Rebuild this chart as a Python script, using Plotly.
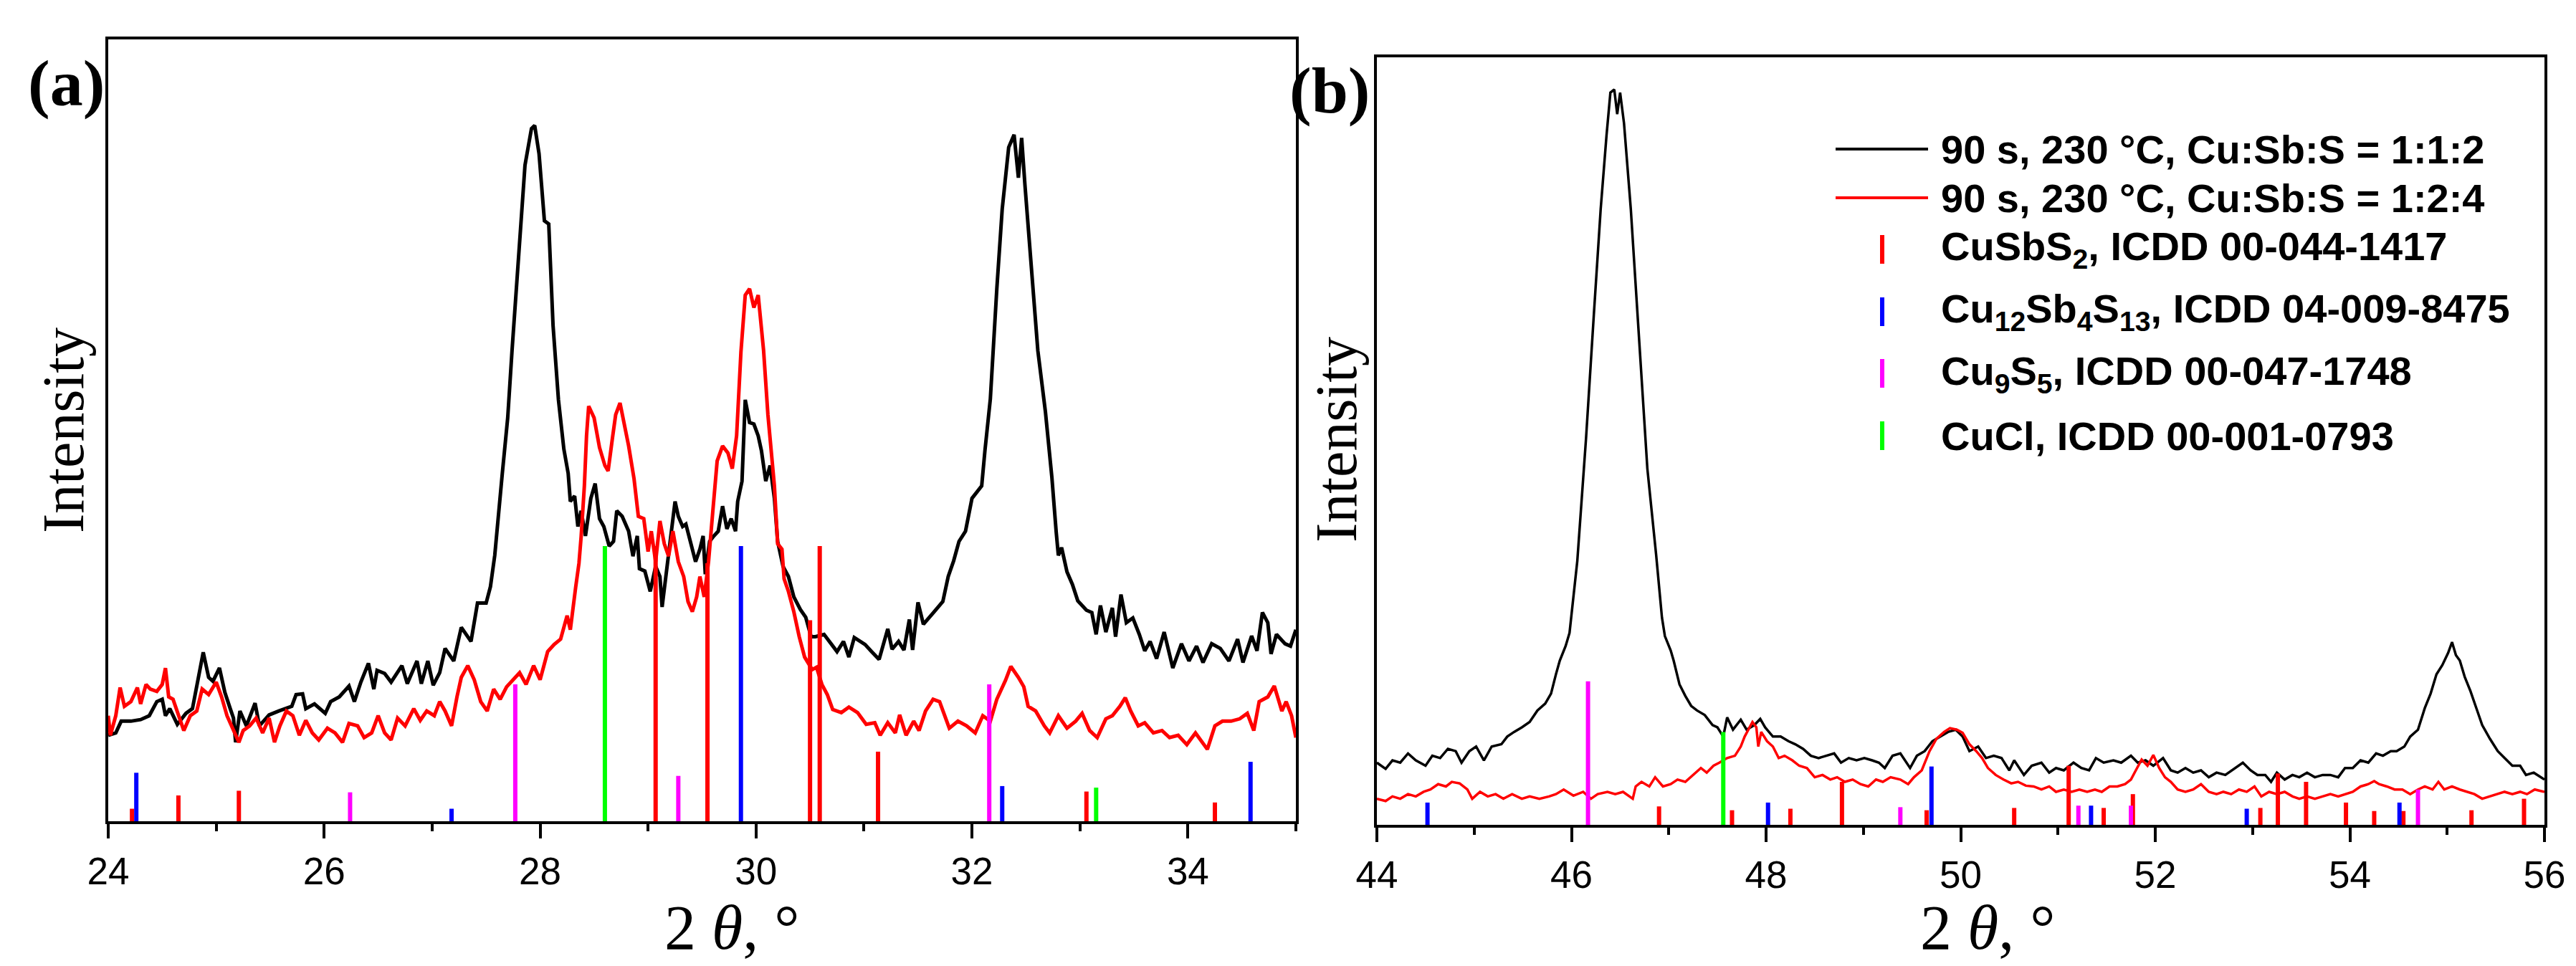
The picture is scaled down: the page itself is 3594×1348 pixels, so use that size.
import plotly.graph_objects as go

# ---------------- panel (a): 24-35 deg ----------------
a_x_black = [24.00, 24.07, 24.12, 24.21, 24.30, 24.38, 24.45, 24.50, 24.53, 24.57, 24.64, 24.72, 24.78,
             24.82, 24.88, 24.93, 24.97, 25.03, 25.08, 25.13, 25.16, 25.18, 25.22, 25.28, 25.36, 25.40,
             25.49, 25.58, 25.70, 25.74, 25.80, 25.83, 25.91, 26.01, 26.06, 26.14, 26.23, 26.28, 26.34,
             26.41, 26.46, 26.49, 26.56, 26.62, 26.66, 26.72, 26.77, 26.81, 26.86, 26.90, 26.96, 27.01,
             27.07, 27.12, 27.20, 27.27, 27.36, 27.42, 27.50, 27.54, 27.58, 27.65, 27.70, 27.74, 27.80,
             27.86, 27.92, 27.95, 27.99, 28.04, 28.08, 28.12, 28.17, 28.22, 28.26, 28.28, 28.32, 28.35,
             28.38, 28.42, 28.47, 28.51, 28.55, 28.59, 28.64, 28.68, 28.71, 28.76, 28.82, 28.86, 28.90,
             28.92, 28.97, 29.02, 29.07, 29.11, 29.13, 29.17, 29.21, 29.25, 29.28, 29.32, 29.35, 29.39,
             29.44, 29.48, 29.51, 29.53, 29.57, 29.61, 29.65, 29.69, 29.73, 29.77, 29.81, 29.83, 29.87,
             29.90, 29.94, 29.98, 30.02, 30.05, 30.09, 30.13, 30.17, 30.20, 30.25, 30.30, 30.35, 30.41,
             30.46, 30.51, 30.55, 30.63, 30.75, 30.81, 30.86, 30.91, 31.01, 31.07, 31.14, 31.22, 31.26,
             31.32, 31.37, 31.42, 31.45, 31.50, 31.55, 31.65, 31.73, 31.78, 31.83, 31.88, 31.94, 32.00,
             32.09, 32.12, 32.17, 32.23, 32.28, 32.34, 32.39, 32.43, 32.46, 32.49, 32.55, 32.61, 32.68,
             32.74, 32.78, 32.80, 32.83, 32.88, 32.93, 32.98, 33.06, 33.11, 33.15, 33.19, 33.24, 33.30,
             33.33, 33.38, 33.43, 33.49, 33.55, 33.60, 33.65, 33.71, 33.78, 33.86, 33.94, 34.01, 34.08,
             34.14, 34.22, 34.30, 34.38, 34.46, 34.51, 34.59, 34.64, 34.69, 34.74, 34.77, 34.82, 34.90,
             34.95, 35.00]
a_y_black = [110, 113, 128, 128, 130, 135, 153, 156, 135, 144, 124, 138, 144,
             171, 216, 184, 179, 196, 165, 144, 132, 101, 141, 122, 151, 122,
             136, 141, 147, 162, 163, 144, 150, 138, 153, 159, 173, 153, 178,
             202, 169, 193, 189, 178, 187, 199, 176, 188, 205, 176, 205, 174,
             190, 221, 205, 248, 230, 279, 279, 300, 340, 445, 516, 602, 728,
             839, 886, 890, 854, 768, 764, 634, 539, 476, 445, 409, 416, 377,
             397, 365, 413, 432, 387, 377, 352, 358, 397, 390, 371, 339, 365,
             323, 320, 294, 326, 313, 274, 320, 365, 409, 390, 377, 380, 358,
             332, 348, 365, 316, 358, 365, 371, 403, 374, 387, 371, 409, 435,
             539, 510, 508, 493, 474, 435, 455, 413, 358, 326, 313, 287, 271,
             261, 236, 236, 239, 217, 230, 210, 235, 226, 217, 207, 246, 220,
             230, 219, 258, 219, 280, 252, 268, 281, 313, 333, 358, 371, 413,
             429, 474, 540, 681, 783, 862, 878, 823, 874, 815, 713, 602, 524,
             440, 370, 340, 350, 319, 303, 282, 270, 267, 239, 276, 242, 273,
             236, 290, 254, 260, 239, 218, 230, 208, 242, 196, 227, 205, 224,
             203, 227, 221, 205, 233, 203, 237, 218, 267, 254, 214, 239, 227,
             224, 245]

a_x_red = [24.00, 24.02, 24.07, 24.11, 24.15, 24.21, 24.27, 24.30, 24.35, 24.39, 24.45, 24.50, 24.53,
           24.56, 24.60, 24.64, 24.70, 24.76, 24.82, 24.87, 24.93, 25.00, 25.05, 25.10, 25.16, 25.21,
           25.25, 25.31, 25.37, 25.43, 25.49, 25.54, 25.59, 25.65, 25.71, 25.77, 25.83, 25.89, 25.95,
           26.03, 26.10, 26.17, 26.23, 26.31, 26.37, 26.44, 26.50, 26.56, 26.62, 26.68, 26.75, 26.83,
           26.89, 26.95, 27.02, 27.07, 27.12, 27.18, 27.23, 27.27, 27.33, 27.39, 27.45, 27.51, 27.57,
           27.63, 27.69, 27.73, 27.81, 27.87, 27.94, 28.00, 28.07, 28.13, 28.19, 28.25, 28.28, 28.33,
           28.36, 28.38, 28.41, 28.43, 28.45, 28.50, 28.55, 28.60, 28.63, 28.67, 28.70, 28.74, 28.78,
           28.82, 28.87, 28.91, 28.96, 29.00, 29.03, 29.07, 29.11, 29.15, 29.19, 29.23, 29.28, 29.33,
           29.37, 29.41, 29.45, 29.48, 29.52, 29.56, 29.60, 29.64, 29.69, 29.74, 29.78, 29.82, 29.86,
           29.90, 29.94, 29.98, 30.02, 30.07, 30.11, 30.15, 30.17, 30.20, 30.24, 30.26, 30.30, 30.35,
           30.40, 30.45, 30.52, 30.56, 30.61, 30.66, 30.71, 30.79, 30.86, 30.94, 31.02, 31.10, 31.15,
           31.22, 31.29, 31.33, 31.39, 31.46, 31.51, 31.57, 31.64, 31.70, 31.75, 31.79, 31.87, 31.95,
           32.03, 32.10, 32.17, 32.23, 32.31, 32.36, 32.43, 32.48, 32.52, 32.59, 32.67, 32.72, 32.80,
           32.88, 32.96, 33.02, 33.09, 33.16, 33.24, 33.30, 33.37, 33.42, 33.47, 33.54, 33.60, 33.68,
           33.76, 33.83, 33.91, 33.99, 34.07, 34.12, 34.18, 34.25, 34.32, 34.40, 34.48, 34.55, 34.61,
           34.66, 34.74, 34.80, 34.87, 34.91, 34.96, 35.00]
a_y_red = [135, 110, 135, 171, 147, 153, 171, 150, 175, 169, 166, 175, 196,
           159, 156, 141, 116, 135, 141, 169, 162, 178, 159, 135, 116, 101,
           116, 122, 132, 113, 132, 101, 122, 141, 135, 110, 129, 113, 104,
           119, 113, 101, 125, 122, 107, 113, 135, 113, 104, 132, 122, 144,
           129, 141, 135, 153, 141, 122, 159, 184, 199, 181, 153, 141, 169,
           156, 172, 178, 190, 175, 199, 181, 217, 226, 233, 263, 245, 300,
           330, 364, 429, 493, 531, 516, 478, 455, 448, 490, 520, 535, 510,
           480, 438, 390, 387, 345, 371, 332, 384, 355, 339, 371, 332, 313,
           281, 268, 287, 313, 287, 332, 397, 461, 480, 471, 451, 493, 600,
           673, 681, 657, 673, 602, 520, 465, 429, 355, 348, 310, 294, 268,
           236, 210, 194, 197, 175, 162, 143, 139, 146, 139, 124, 126, 110,
           126, 113, 136, 110, 128, 116, 141, 156, 153, 135, 119, 128, 122,
           113, 135, 128, 156, 180, 198, 184, 172, 147, 141, 122, 113, 135,
           119, 128, 138, 116, 107, 131, 135, 147, 158, 141, 122, 126, 113,
           116, 107, 110, 98, 113, 104, 92, 122, 128, 128, 131, 138, 116,
           153, 159, 173, 141, 153, 135, 107]

# reference patterns (a)
a_cusbs2_pos = [24.22, 24.65, 25.21, 29.07, 29.55, 30.50, 30.59, 31.13, 33.06, 34.25]
a_cusbs2_int = [16, 33, 39, 352, 330, 257, 352, 89, 38, 24]
a_cu12_pos = [24.26, 27.18, 29.86, 32.28, 34.58]
a_cu12_int = [62, 16, 352, 45, 76]
a_cu9s5_pos = [26.24, 27.77, 29.28, 32.16]
a_cu9s5_int = [37, 175, 58, 175]
a_cucl_pos = [28.60, 33.15]
a_cucl_int = [352, 43]

# ---------------- panel (b): 44-56 deg ----------------
b_x_black = [44.00, 44.09, 44.16, 44.24, 44.32, 44.40, 44.50, 44.57, 44.65, 44.73, 44.81, 44.87, 44.95,
             45.02, 45.10, 45.18, 45.28, 45.34, 45.41, 45.49, 45.57, 45.65, 45.73, 45.79, 45.84, 45.88,
             45.94, 45.98, 46.06, 46.15, 46.23, 46.30, 46.36, 46.40, 46.44, 46.47, 46.50, 46.54, 46.61,
             46.70, 46.78, 46.87, 46.93, 46.96, 47.02, 47.05, 47.11, 47.17, 47.23, 47.29, 47.37, 47.45,
             47.50, 47.56, 47.60, 47.66, 47.74, 47.80, 47.88, 47.94, 47.99, 48.07, 48.15, 48.23, 48.30,
             48.38, 48.46, 48.54, 48.62, 48.70, 48.77, 48.85, 48.93, 49.01, 49.09, 49.16, 49.22, 49.30,
             49.38, 49.48, 49.55, 49.63, 49.71, 49.79, 49.87, 49.95, 50.02, 50.09, 50.18, 50.26, 50.34,
             50.42, 50.50, 50.55, 50.65, 50.73, 50.83, 50.91, 50.98, 51.06, 51.16, 51.24, 51.32, 51.39,
             51.47, 51.57, 51.65, 51.75, 51.82, 51.90, 51.98, 52.08, 52.16, 52.23, 52.31, 52.39, 52.47,
             52.55, 52.63, 52.72, 52.82, 52.90, 52.98, 53.05, 53.13, 53.19, 53.25, 53.33, 53.41, 53.48,
             53.56, 53.64, 53.72, 53.80, 53.88, 53.95, 54.03, 54.11, 54.19, 54.27, 54.34, 54.42, 54.48,
             54.56, 54.62, 54.70, 54.77, 54.83, 54.89, 54.95, 55.01, 55.05, 55.09, 55.13, 55.18, 55.24,
             55.30, 55.36, 55.44, 55.52, 55.59, 55.67, 55.75, 55.81, 55.89, 55.96, 56.00]
b_y_black = [81, 73, 84, 81, 93, 84, 77, 90, 87, 99, 96, 81, 96,
             102, 84, 102, 105, 115, 121, 127, 134, 149, 158, 171, 196, 214,
             233, 250, 344, 504, 665, 802, 898, 954, 958, 926, 954, 914, 802,
             625, 464, 352, 270, 246, 227, 214, 183, 168, 155, 149, 143, 130,
             127, 115, 140, 124, 137, 124, 130, 138, 127, 115, 115, 109, 105,
             99, 90, 87, 90, 93, 81, 87, 84, 87, 84, 81, 74, 90,
             93, 74, 90, 96, 109, 115, 121, 124, 115, 96, 102, 87, 90,
             87, 71, 84, 65, 77, 81, 68, 74, 71, 81, 74, 71, 87,
             81, 84, 81, 90, 81, 84, 77, 87, 71, 68, 74, 68, 71,
             62, 68, 65, 74, 81, 71, 65, 65, 56, 68, 59, 65, 62,
             68, 62, 65, 65, 62, 74, 74, 84, 81, 93, 90, 96, 96,
             102, 115, 124, 152, 171, 196, 208, 224, 238, 221, 214, 193, 174,
             152, 130, 112, 96, 87, 77, 77, 65, 68, 62, 59]

b_x_red = [44.00, 44.09, 44.16, 44.24, 44.32, 44.40, 44.48, 44.55, 44.63, 44.71, 44.77, 44.85, 44.93,
           44.98, 45.06, 45.14, 45.22, 45.30, 45.39, 45.49, 45.57, 45.67, 45.77, 45.84, 45.92, 46.02,
           46.12, 46.20, 46.27, 46.37, 46.45, 46.53, 46.63, 46.66, 46.72, 46.80, 46.86, 46.94, 47.02,
           47.09, 47.17, 47.25, 47.33, 47.39, 47.46, 47.52, 47.60, 47.68, 47.74, 47.78, 47.82, 47.86,
           47.90, 47.92, 47.95, 48.01, 48.07, 48.13, 48.19, 48.27, 48.34, 48.42, 48.50, 48.58, 48.66,
           48.73, 48.81, 48.89, 48.97, 49.05, 49.13, 49.20, 49.28, 49.38, 49.46, 49.52, 49.60, 49.68,
           49.75, 49.83, 49.89, 49.96, 50.02, 50.09, 50.16, 50.22, 50.28, 50.36, 50.44, 50.52, 50.59,
           50.67, 50.75, 50.83, 50.91, 50.98, 51.06, 51.14, 51.22, 51.30, 51.38, 51.45, 51.53, 51.61,
           51.69, 51.75, 51.80, 51.86, 51.92, 51.98, 52.04, 52.10, 52.16, 52.23, 52.31, 52.39, 52.47,
           52.55, 52.63, 52.70, 52.78, 52.86, 52.94, 53.02, 53.09, 53.17, 53.25, 53.33, 53.41, 53.48,
           53.56, 53.64, 53.72, 53.80, 53.88, 53.95, 54.03, 54.11, 54.19, 54.25, 54.30, 54.38, 54.46,
           54.54, 54.62, 54.70, 54.77, 54.85, 54.91, 54.97, 55.05, 55.13, 55.20, 55.28, 55.36, 55.44,
           55.52, 55.59, 55.67, 55.75, 55.82, 55.90, 56.00]
b_y_red = [34, 31, 37, 34, 40, 37, 43, 46, 53, 50, 56, 54, 46,
           34, 43, 37, 40, 34, 40, 34, 37, 34, 37, 40, 46, 38,
           43, 34, 40, 43, 40, 43, 34, 50, 56, 50, 62, 50, 53,
           59, 56, 65, 74, 68, 77, 81, 87, 90, 102, 115, 124, 134,
           127, 102, 121, 109, 102, 87, 90, 84, 77, 74, 62, 65, 59,
           62, 56, 59, 53, 50, 59, 56, 62, 59, 53, 62, 71, 96,
           112, 121, 126, 124, 120, 105, 96, 87, 74, 65, 59, 54, 56,
           51, 50, 46, 50, 43, 46, 43, 46, 43, 46, 43, 50, 50,
           53, 59, 71, 85, 77, 91, 74, 62, 56, 46, 43, 46, 53,
           43, 40, 43, 40, 46, 43, 50, 37, 43, 40, 43, 37, 34,
           37, 34, 37, 40, 37, 40, 43, 50, 53, 57, 53, 50, 46,
           46, 40, 46, 50, 46, 56, 46, 50, 46, 43, 40, 34, 37,
           40, 43, 40, 43, 40, 46, 43]

# reference patterns (b)
b_cusbs2_pos = [46.90, 47.65, 48.25, 48.78, 49.65, 50.55, 51.11, 51.47, 51.77, 53.08, 53.26, 53.55,
                53.96, 54.25, 54.55, 55.25, 55.79]
b_cusbs2_int = [24, 19, 21, 56, 19, 22, 77, 22, 40, 22, 67, 56, 29, 18, 18, 19, 34]
b_cu12_pos = [44.52, 48.02, 49.70, 51.34, 52.94, 54.51]
b_cu12_int = [29, 29, 76, 25, 21, 29]
b_cu9s5_pos = [46.17, 49.38, 51.21, 51.75, 54.70]
b_cu9s5_int = [187, 23, 25, 25, 46]
b_cucl_pos = [47.56]
b_cucl_int = [121]

legend_labels = ['90 s, 230 °C, Cu:Sb:S = 1:1:2',
                 '90 s, 230 °C, Cu:Sb:S = 1:2:4',
                 'CuSbS<sub>2</sub>, ICDD 00-044-1417',
                 'Cu<sub>12</sub>Sb<sub>4</sub>S<sub>13</sub>, ICDD 04-009-8475',
                 'Cu<sub>9</sub>S<sub>5</sub>, ICDD 00-047-1748',
                 'CuCl, ICDD 00-001-0793']

RED, BLUE, MAG, GRN = '#FF0000', '#0000FF', '#FF00FF', '#00FF00'
W, H = 3594, 1348


def sticks(pos, inten):
    # vertical reference lines from the baseline
    xs, ys = [], []
    for p, h in zip(pos, inten):
        xs += [p, p, None]
        ys += [0, h, None]
    return xs, ys


fig = go.Figure()

fig.add_trace(go.Scatter(x=a_x_black, y=a_y_black, mode='lines', line=dict(color='black', width=5),
                         xaxis='x', yaxis='y', showlegend=False))
fig.add_trace(go.Scatter(x=a_x_red, y=a_y_red, mode='lines', line=dict(color=RED, width=5),
                         xaxis='x', yaxis='y', showlegend=False))
for pos, inten, col in [(a_cusbs2_pos, a_cusbs2_int, RED), (a_cu12_pos, a_cu12_int, BLUE),
                        (a_cu9s5_pos, a_cu9s5_int, MAG), (a_cucl_pos, a_cucl_int, GRN)]:
    sx, sy = sticks(pos, inten)
    fig.add_trace(go.Scatter(x=sx, y=sy, mode='lines', line=dict(color=col, width=6),
                             xaxis='x', yaxis='y', showlegend=False))

fig.add_trace(go.Scatter(x=b_x_black, y=b_y_black, mode='lines', line=dict(color='black', width=3.5),
                         xaxis='x2', yaxis='y2', showlegend=False))
fig.add_trace(go.Scatter(x=b_x_red, y=b_y_red, mode='lines', line=dict(color=RED, width=3.5),
                         xaxis='x2', yaxis='y2', showlegend=False))
for pos, inten, col in [(b_cusbs2_pos, b_cusbs2_int, RED), (b_cu12_pos, b_cu12_int, BLUE),
                        (b_cu9s5_pos, b_cu9s5_int, MAG), (b_cucl_pos, b_cucl_int, GRN)]:
    sx, sy = sticks(pos, inten)
    fig.add_trace(go.Scatter(x=sx, y=sy, mode='lines', line=dict(color=col, width=6),
                             xaxis='x2', yaxis='y2', showlegend=False))

tickfont = dict(family='Arial, Liberation Sans', size=53, color='black')
xcommon = dict(showline=True, mirror=True, linewidth=4, linecolor='black', showgrid=False,
               zeroline=False, ticks='outside', ticklen=20, tickwidth=4, tickcolor='black',
               dtick=2, tickfont=tickfont,
               minor=dict(dtick=1, ticks='outside', ticklen=10, tickwidth=4, tickcolor='black'))
ycommon = dict(showline=True, mirror=True, linewidth=4, linecolor='black', showgrid=False,
               zeroline=False, showticklabels=False, ticks='', range=[0, 1000])

fig.update_layout(
    width=W, height=H, margin=dict(l=0, r=0, t=0, b=0, autoexpand=False),
    paper_bgcolor='white', plot_bgcolor='white',
    xaxis=dict(domain=[143 / W, 1800 / W], range=[24, 35], anchor='y', tick0=24, **xcommon),
    yaxis=dict(domain=[1 - 1138 / H, 1 - 47 / H], anchor='x', **ycommon),
    xaxis2=dict(domain=[1913 / W, 3542 / W], range=[44, 56], anchor='y2', tick0=44, **xcommon),
    yaxis2=dict(domain=[1 - 1143 / H, 1 - 72 / H], anchor='x2', **ycommon),
)

serif = 'Liberation Serif, Times New Roman, serif'
sans = 'Arial, Liberation Sans, sans-serif'
ann = []
# panel letters
ann.append(dict(text='<b>(a)</b>', x=84 / W, y=1 - 108 / H, font=dict(family=serif, size=92)))
ann.append(dict(text='<b>(b)</b>', x=1847 / W, y=1 - 118 / H, font=dict(family=serif, size=92)))
# axis titles
for xc, yc in [(80, 593), (1857, 606)]:
    ann.append(dict(text='Intensity', x=xc / W, y=1 - yc / H, textangle=-90,
                    font=dict(family=serif, size=82)))
for xc in [1013, 2765]:
    ann.append(dict(text='2 <i>θ</i>, °', x=xc / W, y=1 - 1286 / H,
                    font=dict(family=serif, size=88)))

# legend in panel (b)
row_y = [200, 268, 340, 427, 513, 600]
for lbl, yc in zip(legend_labels, row_y):
    ann.append(dict(text='<b>' + lbl + '</b>', x=2698 / W, y=1 - yc / H, xanchor='left',
                    font=dict(family=sans, size=56)))
for a in ann:
    a.setdefault('xref', 'paper')
    a.setdefault('yref', 'paper')
    a.setdefault('showarrow', False)
    a.setdefault('xanchor', 'center')
    a.setdefault('yanchor', 'middle')
    a['font'].setdefault('color', 'black')
fig.update_layout(annotations=ann)

shapes = []
for yc, col in [(row_y[0], 'black'), (row_y[1], RED)]:
    shapes.append(dict(type='line', xref='paper', yref='paper', x0=2553 / W, x1=2682 / W,
                       y0=1 - yc / H, y1=1 - yc / H, line=dict(color=col, width=4)))
for yc, col in zip(row_y[2:], [RED, BLUE, MAG, GRN]):
    shapes.append(dict(type='line', xref='paper', yref='paper', x0=2618 / W, x1=2618 / W,
                       y0=1 - (yc + 20) / H, y1=1 - (yc - 20) / H, line=dict(color=col, width=6)))
fig.update_layout(shapes=shapes)

fig.write_html("out.html")
